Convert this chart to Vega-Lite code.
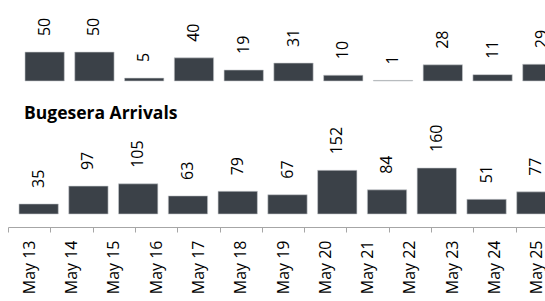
{
  "$schema": "https://vega.github.io/schema/vega-lite/v6.json",
  "padding": {"left": 0, "top": 0, "right": 0, "bottom": 0},
  "background": "white",
  "bounds": "flush",
  "spacing": 12,
  "config": {
    "view": {"stroke": null},
    "font": "Open Sans",
    "text": {"font": "Open Sans"}
  },
  "datasets": {
    "top": [
      {"day": "May 13", "value": 50},
      {"day": "May 14", "value": 50},
      {"day": "May 15", "value": 5},
      {"day": "May 16", "value": 40},
      {"day": "May 17", "value": 19},
      {"day": "May 18", "value": 31},
      {"day": "May 19", "value": 10},
      {"day": "May 20", "value": 1},
      {"day": "May 21", "value": 28},
      {"day": "May 22", "value": 11},
      {"day": "May 23", "value": 29}
    ],
    "bugesera": [
      {"day": "May 13", "value": 35},
      {"day": "May 14", "value": 97},
      {"day": "May 15", "value": 105},
      {"day": "May 16", "value": 63},
      {"day": "May 17", "value": 79},
      {"day": "May 18", "value": 67},
      {"day": "May 19", "value": 152},
      {"day": "May 20", "value": 84},
      {"day": "May 21", "value": 160},
      {"day": "May 22", "value": 51},
      {"day": "May 23", "value": 77}
    ],
    "dates": [
      {"date": "May 13"}, {"date": "May 14"}, {"date": "May 15"}, {"date": "May 16"},
      {"date": "May 17"}, {"date": "May 18"}, {"date": "May 19"}, {"date": "May 20"},
      {"date": "May 21"}, {"date": "May 22"}, {"date": "May 23"}, {"date": "May 24"},
      {"date": "May 25"}
    ]
  },
  "vconcat": [
    {
      "width": 571,
      "height": 81,
      "data": {"name": "top"},
      "encoding": {
        "x": {"field": "day", "type": "nominal", "sort": null, "axis": null,
              "scale": {"paddingInner": 0.21, "paddingOuter": 0.3414}},
        "y": {"field": "value", "type": "quantitative", "axis": null,
              "scale": {"domain": [0, 140]}}
      },
      "layer": [
        {"mark": {"type": "bar", "color": "#3b4148", "stroke": "#c8cbce", "strokeWidth": 0.6}},
        {"mark": {"type": "text", "angle": 270, "align": "left", "baseline": "middle", "dx": 16, "fontSize": 16, "color": "#000000"},
         "encoding": {"text": {"field": "value", "type": "quantitative"}}}
      ]
    },
    {
      "width": 559,
      "height": 121,
      "data": {"name": "bugesera"},
      "title": {"text": "Bugesera Arrivals", "anchor": "start", "fontSize": 17.5, "fontWeight": "bold", "font": "Open Sans", "color": "#000000", "dx": 16, "dy": 33},
      "encoding": {
        "x": {"field": "day", "type": "nominal", "sort": null, "axis": null,
              "scale": {"paddingInner": 0.21, "paddingOuter": 0.2209}},
        "y": {"field": "value", "type": "quantitative", "axis": null,
              "scale": {"domain": [0, 421]}}
      },
      "layer": [
        {"mark": {"type": "bar", "color": "#3b4148", "stroke": "#c8cbce", "strokeWidth": 0.6}},
        {"mark": {"type": "text", "angle": 270, "align": "left", "baseline": "middle", "dx": 16, "fontSize": 16, "color": "#000000"},
         "encoding": {"text": {"field": "value", "type": "quantitative"}}}
      ]
    },
    {
      "width": 550,
      "height": 1,
      "data": {"name": "dates"},
      "mark": {"type": "rule", "opacity": 0},
      "encoding": {
        "x": {"field": "date", "type": "nominal", "sort": null, "title": null,
              "scale": {"paddingInner": 0, "paddingOuter": 0},
              "axis": {"tickBand": "extent", "domainColor": "#a6a6a6", "tickColor": "#a6a6a6",
                       "tickSize": 5, "labelAngle": 270, "labelAlign": "right", "labelBaseline": "middle",
                       "labelPadding": 8, "labelFontSize": 16, "labelColor": "#000000", "labelFont": "Open Sans",
                       "grid": false, "labelOverlap": false}}
      }
    }
  ]
}
